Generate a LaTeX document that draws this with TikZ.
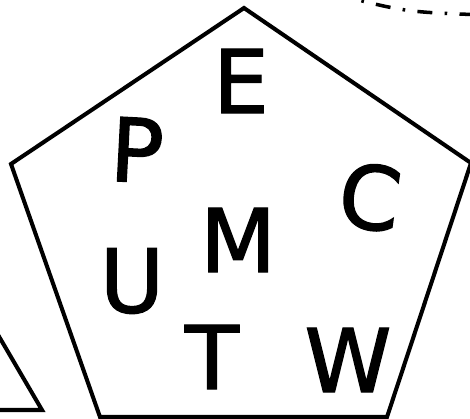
\documentclass[tikz,border=0pt]{standalone}
\usepackage{fontspec}
\newfontfamily\handfont{DejaVu Sans}[FakeBold=1.6]
\usepackage{tikz}
\usetikzlibrary{positioning, calc}

\begin{document}
\begin{tikzpicture}[x=0.02cm, y=-0.02cm,
    edge/.style={draw=black, line width=2.3pt, line join=miter},
    letter/.style={inner sep=0pt, font=\fontsize{50}{50}\handfont},
    orbit/.style={draw=black, line width=2pt, dash pattern=on 8.5pt off 7pt on 1.5pt off 7pt}
]
\clip (0,0) rectangle (470,419);

% pentagon corners
\coordinate (top) at (244,8);
\coordinate (rt) at (471,163);
\coordinate (br) at (387,417);
\coordinate (bl) at (100,417);
\coordinate (lt) at (11,164);
\draw[edge] (top) -- (rt) -- (br) -- (bl) -- (lt) -- cycle;

% triangle (lower left, cut off)
\coordinate (tritop) at (-20,304);
\coordinate (trir) at (42,410);
\coordinate (tril) at (-40,410);
\draw[edge] (tritop) -- (trir) -- (tril) -- cycle;

% dash-dot curve (upper right)
\coordinate (arcs) at (335,-6);
\coordinate (arce) at (485,15);
\draw[orbit] (arcs) .. controls (405,12) .. (arce);

% letters
\node[letter] (E) at (241,81) {E};
\node[letter, rotate=-3] (P) at (137,150) {P};
\node[letter, rotate=-8] (C) at (370,197) {C};
\node[letter] (M) at (238,240) {M};
\node[letter] (U) at (132,281) {U};
\node[letter] (T) at (212,357) {T};
\node[letter] (W) at (348,360) {W};

\end{tikzpicture}
\end{document}
